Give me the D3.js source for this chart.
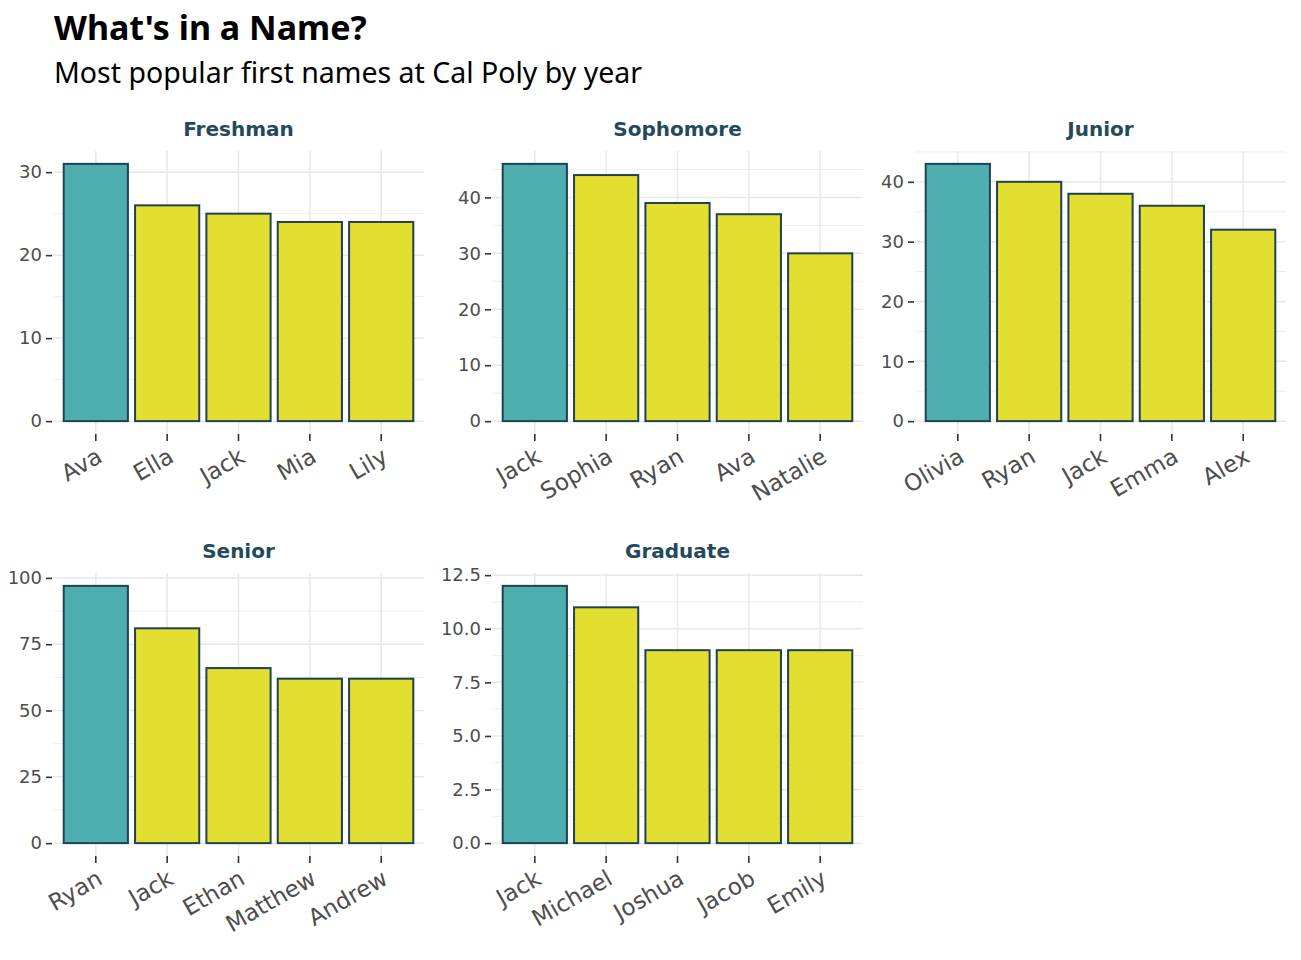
<!DOCTYPE html>
<html>
<head>
<meta charset="utf-8">
<script src="https://cdn.jsdelivr.net/npm/d3@7"></script>
<style>
  body { margin: 0; background: #fff; }
  svg { display: block; }
</style>
</head>
<body>
<div id="chart"></div>
<script>
// Chart data
const years = ["Freshman", "Sophomore", "Junior", "Senior", "Graduate"];
const topNames = [
  ["Ava", "Ella", "Jack", "Mia", "Lily"],
  ["Jack", "Sophia", "Ryan", "Ava", "Natalie"],
  ["Olivia", "Ryan", "Jack", "Emma", "Alex"],
  ["Ryan", "Jack", "Ethan", "Matthew", "Andrew"],
  ["Jack", "Michael", "Joshua", "Jacob", "Emily"]
];
const nameCounts = [
  [31, 26, 25, 24, 24],
  [46, 44, 39, 37, 30],
  [43, 40, 38, 36, 32],
  [97, 81, 66, 62, 62],
  [12, 11, 9, 9, 9]
];
const yTickValues = [
  [0, 10, 20, 30],
  [0, 10, 20, 30, 40],
  [0, 10, 20, 30, 40],
  [0, 25, 50, 75, 100],
  [0, 2.5, 5, 7.5, 10, 12.5]
];

// Layout
const width = 1301;
const height = 960;
const colLeft = [53, 492, 915];
const rowTop = [151, 573];
const panelW = 371;
const panelH = 283;

const colors = {
  top: "#4eaead",
  rest: "#e2df30",
  stroke: "#1f4254",
  grid: "#e8e8e8",
  strip: "#234a5c",
  text: "#4d4d4d",
  tick: "#333333"
};

const axisFont = "'DejaVu Sans', sans-serif";

const svg = d3.select("#chart")
  .append("svg")
  .attr("width", width)
  .attr("height", height);

// Titles
svg.append("text")
  .attr("x", 54)
  .attr("y", 40)
  .attr("font-family", "'Noto Sans', 'Open Sans', sans-serif")
  .attr("font-weight", "bold")
  .attr("font-size", 34)
  .attr("fill", "#000")
  .text("What's in a Name?");

svg.append("text")
  .attr("x", 54)
  .attr("y", 83)
  .attr("font-family", "'Noto Sans', 'Open Sans', sans-serif")
  .attr("font-size", 28.5)
  .attr("fill", "#000")
  .text("Most popular first names at Cal Poly by year");

years.forEach((year, i) => {
  const col = i % 3;
  const row = Math.floor(i / 3);
  const left = colLeft[col];
  const top = rowTop[row];
  const names = topNames[i];
  const counts = nameCounts[i];
  const maxV = d3.max(counts);

  const g = svg.append("g").attr("transform", `translate(${left},${top})`);

  const x = d3.scaleBand()
    .domain(names)
    .range([0, panelW])
    .paddingInner(0.1)
    .paddingOuter(0.15);

  const y = d3.scaleLinear()
    .domain([-0.05 * maxV, 1.05 * maxV])
    .range([panelH, 0]);

  // minor breaks: midpoints between major ticks, within the domain
  const majors = yTickValues[i];
  const stepV = majors[1] - majors[0];
  const minors = [];
  for (let v = majors[0] - stepV / 2; v <= y.domain()[1]; v += stepV) {
    if (v >= y.domain()[0]) minors.push(v);
  }

  // Grid
  g.append("g")
    .selectAll("line")
    .data(minors)
    .enter().append("line")
    .attr("x1", 0).attr("x2", panelW)
    .attr("y1", d => y(d)).attr("y2", d => y(d))
    .attr("stroke", colors.grid)
    .attr("stroke-width", 0.8);

  g.append("g")
    .selectAll("line")
    .data(majors)
    .enter().append("line")
    .attr("x1", 0).attr("x2", panelW)
    .attr("y1", d => y(d)).attr("y2", d => y(d))
    .attr("stroke", colors.grid)
    .attr("stroke-width", 1.5);

  g.append("g")
    .selectAll("line")
    .data(names)
    .enter().append("line")
    .attr("x1", d => x(d) + x.bandwidth() / 2)
    .attr("x2", d => x(d) + x.bandwidth() / 2)
    .attr("y1", 0).attr("y2", panelH)
    .attr("stroke", colors.grid)
    .attr("stroke-width", 1.5);

  // Bars
  g.append("g")
    .selectAll("rect")
    .data(names)
    .enter().append("rect")
    .attr("x", d => x(d))
    .attr("width", x.bandwidth())
    .attr("y", (d, j) => y(counts[j]))
    .attr("height", (d, j) => y(0) - y(counts[j]))
    .attr("fill", (d, j) => j === 0 ? colors.top : colors.rest)
    .attr("stroke", colors.stroke)
    .attr("stroke-width", 2);

  // Y axis
  const yAxis = g.append("g")
    .attr("transform", "translate(-1,0)")
    .call(d3.axisLeft(y).tickValues(majors).tickSize(6).tickPadding(4)
      .tickFormat(d => i === 4 ? d3.format(".1f")(d) : d3.format("d")(d)));
  yAxis.select(".domain").remove();
  yAxis.selectAll(".tick line").attr("stroke", colors.tick).attr("stroke-width", 1.6);
  yAxis.selectAll(".tick text")
    .attr("fill", colors.text)
    .attr("font-family", axisFont)
    .attr("font-size", 18);

  // X axis
  const xAxis = g.append("g")
    .attr("transform", `translate(0,${panelH})`)
    .call(d3.axisBottom(x).tickSize(7).tickPadding(4));
  xAxis.select(".domain").remove();
  xAxis.selectAll(".tick line").attr("stroke", colors.tick).attr("stroke-width", 1.6);
  xAxis.selectAll(".tick text")
    .attr("fill", colors.text)
    .attr("font-family", axisFont)
    .attr("font-size", 23)
    .attr("text-anchor", "end")
    .attr("y", 0)
    .attr("dy", "0")
    .attr("transform", "translate(8,27) rotate(-30)");

  // Strip title
  g.append("text")
    .attr("x", panelW / 2)
    .attr("y", -15)
    .attr("text-anchor", "middle")
    .attr("font-family", axisFont)
    .attr("font-weight", "bold")
    .attr("font-size", 20)
    .attr("fill", colors.strip)
    .text(year);
});
</script>
</body>
</html>
